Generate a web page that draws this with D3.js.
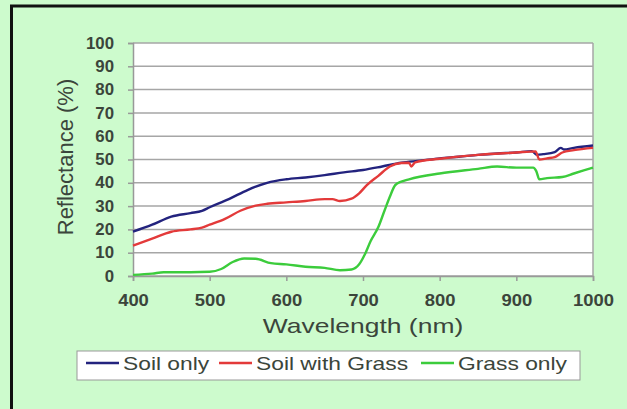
<!DOCTYPE html>
<html>
<head>
<meta charset="utf-8">
<script src="https://cdn.jsdelivr.net/npm/d3@7"></script>
<style>
  body { margin: 0; background: #cdfbcd; }
  svg text { font-family: "Liberation Sans", Arial, sans-serif; }
</style>
</head>
<body>
<div id="chart"></div>
<script>
// data (wavelength in nm, reflectance in %)
const soilOnly = [
  [400, 19], [425, 22], [450, 25.5], [475, 27], [490, 28], [500, 29.5], [525, 33],
  [550, 37], [575, 40], [600, 41.5], [625, 42.3], [650, 43.3], [675, 44.5], [700, 45.5],
  [725, 47], [750, 48.6], [775, 49.5], [800, 50.5], [825, 51.2], [850, 52], [875, 52.6],
  [900, 53], [920, 53.6], [927, 52], [935, 52.3], [950, 53.2], [958, 55], [962, 54.3],
  [975, 55], [1000, 56]
];
const soilGrass = [
  [400, 13], [425, 16], [450, 19], [475, 20], [490, 20.8], [500, 22], [520, 24.5],
  [540, 28], [560, 30.2], [575, 31], [600, 31.6], [625, 32.2], [650, 33], [660, 33],
  [670, 32.2], [685, 33.2], [695, 35.5], [705, 39], [720, 43], [735, 47], [750, 48.5],
  [760, 48.6], [763, 47], [768, 48.8], [800, 50.3], [850, 52], [900, 53], [925, 53.5],
  [930, 50], [940, 50.5], [950, 51], [960, 53], [975, 54], [1000, 55]
];
const grassOnly = [
  [400, 0.5], [425, 1], [440, 1.6], [475, 1.6], [500, 1.8], [515, 3], [530, 6],
  [545, 7.5], [560, 7.4], [580, 5.5], [600, 5], [625, 4], [650, 3.5], [670, 2.5],
  [685, 2.8], [695, 5], [702, 9], [710, 15], [720, 21], [728, 28], [735, 34], [742, 39],
  [750, 40.5], [760, 41.5], [800, 44], [850, 46], [875, 47], [900, 46.5], [922, 46.5],
  [926, 45], [930, 41.5], [940, 42], [960, 42.5], [975, 44], [1000, 46.5]
];
const seriesNames = ["Soil only", "Soil with Grass", "Grass only"];
const seriesColors = ["#23237e", "#e33a3a", "#3ccc3c"];
const xTicks = [400, 500, 600, 700, 800, 900, 1000];
const yTicks = [0, 10, 20, 30, 40, 50, 60, 70, 80, 90, 100];

const W = 627, H = 409;
const margin = { top: 43, right: 34, bottom: 133, left: 133 },
  width = W - margin.left - margin.right,
  height = H - margin.top - margin.bottom;
const textColor = "#3b453b";

// the picture is a bit wider than tall, so text looks stretched sideways
function stretch(sel, k) {
  sel.each(function () {
    const len = this.getComputedTextLength();
    d3.select(this).attr("textLength", len * k).attr("lengthAdjust", "spacingAndGlyphs");
  });
}

const root = d3.select("#chart").append("svg").attr("width", W).attr("height", H);

// black frame at top and left
root.append("line").attr("x1", 10).attr("x2", W).attr("y1", 6).attr("y2", 6)
  .attr("stroke", "#111").attr("stroke-width", 3);
root.append("line").attr("x1", 11.5).attr("x2", 11.5).attr("y1", 5).attr("y2", H)
  .attr("stroke", "#111").attr("stroke-width", 3);

const svg = root.append("g").attr("transform", `translate(${margin.left},${margin.top})`);

const x = d3.scaleLinear().domain([400, 1000]).range([0, width]);
const y = d3.scaleLinear().domain([0, 100]).range([height, 0]);

svg.append("rect").attr("width", width).attr("height", height).attr("fill", "#fff");

// gridlines
svg.selectAll(".grid").data(yTicks).enter().append("line")
  .attr("x1", 0).attr("x2", width)
  .attr("y1", (d) => y(d)).attr("y2", (d) => y(d))
  .attr("stroke", "#a6a6a6").attr("stroke-width", 1.5);
svg.append("line").attr("x1", width).attr("x2", width).attr("y1", 0).attr("y2", height)
  .attr("stroke", "#a6a6a6").attr("stroke-width", 1.5);

const xAxis = svg.append("g").attr("transform", `translate(0,${height})`)
  .call(d3.axisBottom(x).tickValues(xTicks).tickFormat(d3.format("d")).tickSize(5).tickPadding(14));
const yAxis = svg.append("g")
  .call(d3.axisLeft(y).tickValues(yTicks).tickSize(5).tickPadding(14));
[xAxis, yAxis].forEach((a) => {
  a.attr("font-family", null).attr("font-size", 16);
  a.selectAll("path, line").attr("stroke", "#999").attr("stroke-width", 1.5);
  a.selectAll("text").attr("fill", textColor).attr("font-weight", "bold");
});
stretch(xAxis.selectAll("text"), 1.15);
stretch(yAxis.selectAll("text"), 1.05);

const line = d3.line().x((d) => x(d[0])).y((d) => y(d[1])).curve(d3.curveMonotoneX);
[soilOnly, soilGrass, grassOnly].forEach((s, i) => {
  svg.append("path").datum(s).attr("d", line).attr("fill", "none")
    .attr("stroke", seriesColors[i]).attr("stroke-width", 2.4);
});

// axis titles
const xTitle = root.append("text").attr("x", 363).attr("y", 333).attr("text-anchor", "middle")
  .attr("fill", textColor).style("font-size", "21px").text("Wavelength (nm)");
stretch(xTitle, 1.26);
root.append("text").attr("transform", "translate(73,157) rotate(-90)")
  .attr("text-anchor", "middle").attr("fill", textColor).style("font-size", "22px")
  .text("Reflectance (%)");

// legend
const legend = root.append("g");
legend.append("rect").attr("x", 77).attr("y", 351).attr("width", 503).attr("height", 29)
  .attr("fill", "#fff").attr("stroke", "#999").attr("stroke-width", 1);
const legendX = [86, 219, 421];
seriesNames.forEach((name, i) => {
  legend.append("line").attr("x1", legendX[i]).attr("x2", legendX[i] + 33)
    .attr("y1", 363).attr("y2", 363).attr("stroke", seriesColors[i]).attr("stroke-width", 2.5);
  const t = legend.append("text").attr("x", legendX[i] + 37).attr("y", 370)
    .attr("fill", textColor).style("font-size", "19px").text(name);
  stretch(t, 1.2);
});
</script>
</body>
</html>
